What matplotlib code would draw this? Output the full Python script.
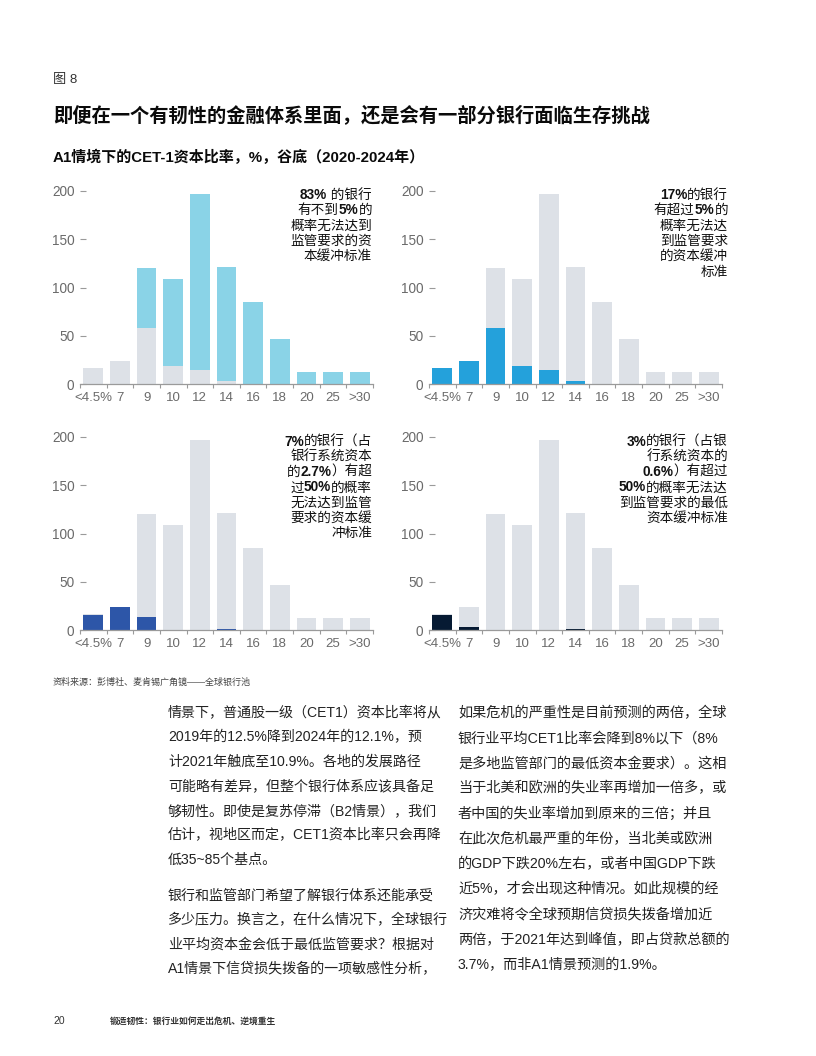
import re
import numpy as np
import matplotlib
matplotlib.use("Agg")
import matplotlib.pyplot as plt

plt.rcParams['font.family'] = ['Liberation Sans', 'Noto Sans CJK SC']

# data
categories = ['<4.5%', '7', '9', '10', '12', '14', '16', '18', '20', '25', '>30']
total_banks = [17, 24, 120, 109, 197, 121, 85, 47, 12, 12, 12]
under_5pct = [17, 24, 58, 19, 14, 3, 0, 0, 0, 0, 0]
over_5pct = [17, 24, 58, 19, 14, 3, 0, 0, 0, 0, 0]
over_50_buffer = [16, 24, 13, 0, 0, 1, 0, 0, 0, 0, 0]
over_50_minimum = [16, 3, 0, 0, 0, 0.8, 0, 0, 0, 0, 0]
yticks = [0, 50, 100, 150, 200]

notes = [
    ["83%| 的银行", "有不到|5%|的", "概率无法达到", "监管要求的资", "本缓冲标准"],
    ["17%|的银行", "有超过|5%|的", "概率无法达", "到监管要求", "的资本缓冲", "标准"],
    ["7%|的银行（占", "银行系统资本", "的|2.7%|）有超", "过|50%|的概率", "无法达到监管", "要求的资本缓", "冲标准"],
    ["3%|的银行（占银", "行系统资本的", "0.6%|）有超过", "50%|的概率无法达", "到监管要求的最低", "资本缓冲标准"],
]

body_left = [
    "情景下，普通股一级（CET1）资本比率将从",
    "2019年的12.5%降到2024年的12.1%，预",
    "计2021年触底至10.9%。各地的发展路径",
    "可能略有差异，但整个银行体系应该具备足",
    "够韧性。即使是复苏停滞（B2情景），我们",
    "估计，视地区而定，CET1资本比率只会再降",
    "低35~85个基点。",
    "",
    "银行和监管部门希望了解银行体系还能承受",
    "多少压力。换言之，在什么情况下，全球银行",
    "业平均资本金会低于最低监管要求？根据对",
    "A1情景下信贷损失拨备的一项敏感性分析，",
]
body_right = [
    "如果危机的严重性是目前预测的两倍，全球",
    "银行业平均CET1比率会降到8%以下（8%",
    "是多地监管部门的最低资本金要求）。这相",
    "当于北美和欧洲的失业率再增加一倍多，或",
    "者中国的失业率增加到原来的三倍；并且",
    "在此次危机最严重的年份，当北美或欧洲",
    "的GDP下跌20%左右，或者中国GDP下跌",
    "近5%，才会出现这种情况。如此规模的经",
    "济灾难将令全球预期信贷损失拨备增加近",
    "两倍，于2021年达到峰值，即占贷款总额的",
    "3.7%，而非A1情景预测的1.9%。",
]

W, H = 816, 1056
fig = plt.figure(figsize=(W / 100, H / 100), dpi=100)


def px(x, y):
    return x / W, 1 - y / H


grey = '#dde1e7'
panels = [
    (80, 384, under_5pct, 'top', '#8ad3e7'),
    (429, 384, over_5pct, 'bottom', '#24a1db'),
    (80, 630, over_50_buffer, 'bottom', '#2d56a8'),
    (429, 630, over_50_minimum, 'bottom', '#061a33'),
]
x = np.arange(len(categories))
ytop = 210
for i, (left, base, part, mode, col) in enumerate(panels):
    hgt = 193 * ytop / 200
    ax = fig.add_axes([left / W, 1 - base / H, 293 / W, hgt / H])
    tot = np.array(total_banks, dtype=float)
    prt = np.array(part, dtype=float)
    if mode == 'top':
        ax.bar(x, prt, width=0.74, color=grey)
        ax.bar(x, tot - prt, bottom=prt, width=0.74, color=col)
    else:
        ax.bar(x, tot, width=0.74, color=grey)
        ax.bar(x, prt, width=0.74, color=col)
    ax.set_xlim(-0.5, 10.5)
    ax.set_ylim(0, ytop)
    for s in ['top', 'right', 'left']:
        ax.spines[s].set_visible(False)
    ax.spines['bottom'].set_color('#9a9a9a')
    ax.spines['bottom'].set_linewidth(0.9)
    ax.set_yticks(yticks)
    ax.tick_params(axis='y', direction='in', length=4.5, width=0.8, color='#9a9a9a',
                   labelsize=9.8, labelcolor='#6a6a6a', pad=4)
    ax.set_xticks(np.arange(-0.5, 11, 1))
    ax.set_xticklabels([])
    ax.tick_params(axis='x', which='major', direction='out', length=3, width=0.8, color='#9a9a9a')
    ax.set_xticks(x, minor=True)
    ax.set_xticklabels(categories, minor=True)
    ax.tick_params(axis='x', which='minor', length=0, labelsize=9.5, labelcolor='#6a6a6a', pad=6)

    # annotation, right aligned, one text per line
    right = 372 if left == 80 else 728
    top = 195 if base == 384 else 441.5
    step = 15.3
    for k, line in enumerate(notes[i]):
        segs = line.split('|')
        yy = top + k * step
        prev = None
        for j in range(len(segs) - 1, -1, -1):
            s = segs[j]
            bold = bool(re.match(r'^[0-9.]+%$', s.strip()))
            kw = dict(fontsize=9.8, color='#111111', fontweight='bold' if bold else 'normal')
            if prev is None:
                prev = fig.text(*px(right, yy), s, ha='right', va='center', **kw)
            else:
                prev = fig.add_artist(matplotlib.text.Annotation(s, xy=(0, 0), xycoords=prev,
                                                                 ha='right', va='bottom', **kw))

# headings
fig.text(*px(53, 80), '图 8', fontsize=9.5, color='#333333', va='center')
fig.text(*px(53, 115), '即便在一个有韧性的金融体系里面，还是会有一部分银行面临生存挑战',
         fontsize=13.9, fontweight='bold', color='#0a0a0a', va='center')
fig.text(*px(53, 157), 'A1情境下的CET-1资本比率，%，谷底（2020-2024年）',
         fontsize=10.8, fontweight='bold', color='#0a0a0a', va='center')
fig.text(*px(53, 682), '资料来源：彭博社、麦肯锡广角镜——全球银行池',
         fontsize=6.5, color='#444444', va='center')

# body text
for k, line in enumerate(body_left):
    if k < 7:
        yy = 713 + k * 24.5
    else:
        yy = 896 + (k - 8) * 24.4
    if line:
        fig.text(*px(168, yy), line, fontsize=10.1, color='#222222', va='center')
for k, line in enumerate(body_right):
    fig.text(*px(458, 713 + k * 25.2), line, fontsize=10.2, color='#222222', va='center')

# footer
fig.text(*px(53, 1021), '20', fontsize=7.5, color='#333333', va='center')
fig.text(*px(110, 1021), '锻造韧性：银行业如何走出危机、逆境重生', fontsize=6.3,
         color='#333333', va='center', fontweight='bold')

fig.savefig('out.png', dpi=100)
